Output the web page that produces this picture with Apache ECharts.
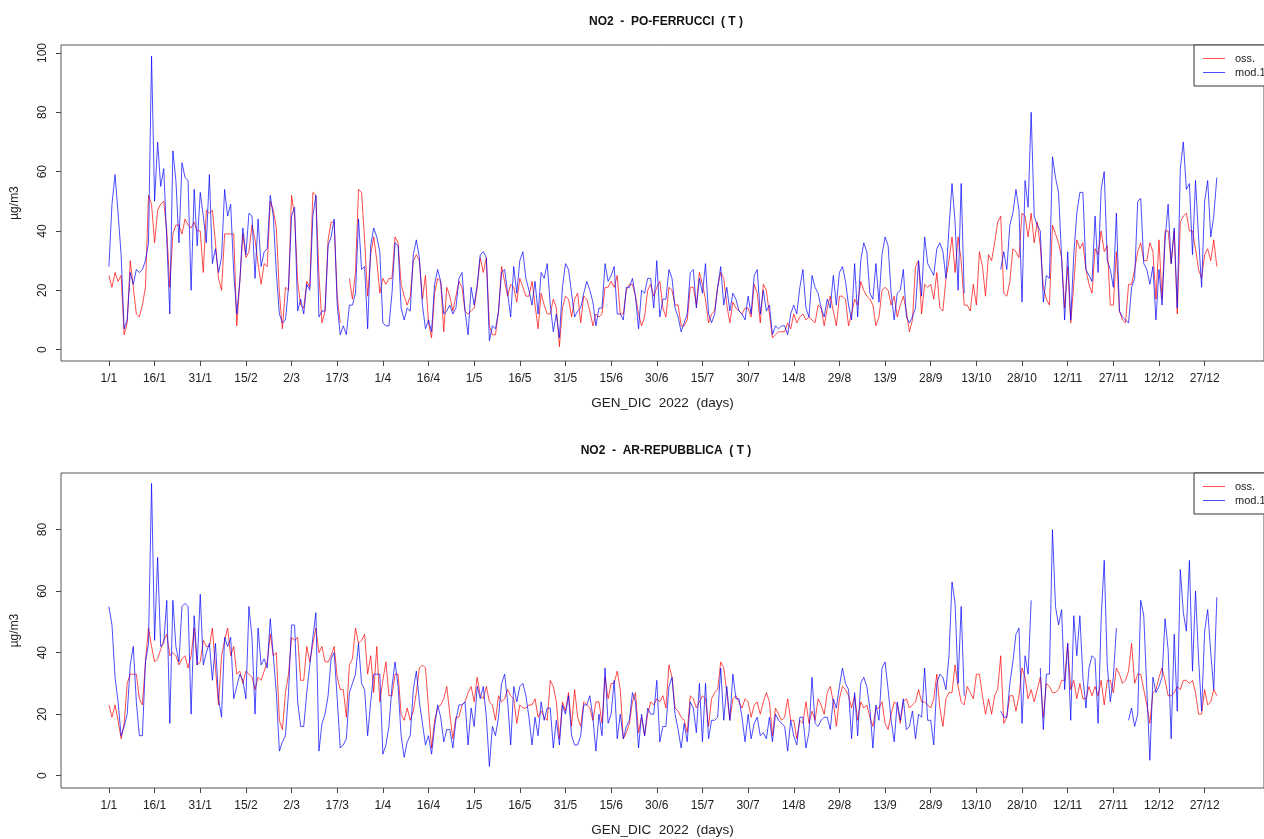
<!DOCTYPE html>
<html lang="it">
<head>
    <meta charset="UTF-8">
    <title>NO2 GEN_DIC 2022</title>
    <script src="https://cdn.jsdelivr.net/npm/echarts@6/dist/echarts.min.js"></script>
    <style>
        html, body { margin: 0; padding: 0; background: #fff; }
        #main { width: 1264px; height: 839px; }
    </style>
</head>
<body>
<div id="main"></div>
<script type="text/javascript">
    // tick positions (day of year) and their labels
    var tickDays = [1, 16, 31, 46, 61, 76, 91, 106, 121, 136, 151, 166, 181, 196, 211, 226, 241, 256, 271, 286, 301, 316, 331, 346, 361];
    var tickLabels = ['1/1', '16/1', '31/1', '15/2', '2/3', '17/3', '1/4', '16/4', '1/5', '16/5', '31/5', '15/6', '30/6',
        '15/7', '30/7', '14/8', '29/8', '13/9', '28/9', '13/10', '28/10', '12/11', '27/11', '12/12', '27/12'];
    var yTicks1 = [0, 20, 40, 60, 80, 100];
    var yTicks2 = [0, 20, 40, 60, 80];

    // PO-FERRUCCI, observed
    var oss1 = [
        25, 21, 26, 23, 25, 5, 9, 30, 21, 12,
        11, 15, 21, 52, 49, 36, 47, 49, 50, 40,
        21, 39, 42, 42, 39, 44, 42, 41, 43, 40,
        40, 26, 47, 46, 47, 36, 24, 20, 39, 39,
        39, 39, 8, 23, 39, 31, 33, 42, 37, 29,
        22, 29, 28, 50, 47, 41, 19, 7, 21, 20,
        52, 45, 23, 15, 14, 23, 21, 53, 52, 25,
        9, 13, 37, 43, 43, 18, 9, null, null, 24,
        17, 26, 54, 53, 37, 18, 32, 38, 30, 19,
        24, 22, 24, 24, 38, 36, 22, 18, 15, 18,
        30, 32, 30, 17, 25, 9, 4, 19, 24, 23,
        6, 21, 18, 13, 18, 23, 21, 13, 12, 13,
        14, 21, 31, 26, 31, 8, 5, 5, 13, 28,
        23, 18, 22, 21, 16, 24, 21, 18, 18, 23,
        15, 7, 19, 15, 12, 12, 17, 14, 1, 14,
        18, 17, 11, 17, 19, 9, 18, 17, 13, 8,
        12, 11, 12, 21, 21, 23, 21, 25, 12, 12,
        20, 22, 22, 18, 12, 8, 11, 20, 22, 18,
        21, 23, 14, 11, 21, 20, 15, 15, 8, 8,
        10, 21, 21, 15, 26, 22, 17, 9, 12, 13,
        21, 26, 24, 15, 9, 16, 14, 13, 12, 14,
        14, 11, 22, 19, 9, 22, 20, 12, 4, 5,
        6, 6, 6, 9, 7, 12, 9, 11, 12, 10,
        11, 10, 9, 15, 14, 8, 14, 18, 13, 8,
        18, 18, 17, 8, 12, 17, 15, 23, 20, 18,
        17, 15, 8, 11, 20, 21, 20, 15, 18, 11,
        15, 18, 13, 6, 10, 28, 30, 12, 22, 21,
        22, 17, 26, 14, 13, 24, 30, 38, 26, 38,
        30, 15, 15, 13, 22, 15, 33, 28, 18, 32,
        30, 36, 43, 45, 19, 18, 23, 34, 33, 31,
        46, 45, 38, 46, 36, 43, 35, 21, 17, 15,
        42, 39, 36, 31, 14, 28, 9, 22, 37, 34,
        36, 27, 22, 19, 34, 32, 40, 33, 35, 15,
        15, 33, 13, 10, 9, 22, 22, 27, 33, 36,
        30, 30, 36, 33, 17, 37, 17, 40, 40, 29,
        40, 12, 43, 45, 46, 40, 40, 34, 27, 24,
        32, 34, 30, 37, 28
    ];
    // PO-FERRUCCI, model
    var mod1 = [
        28, 49, 59, 46, 32, 7, 10, 26, 22, 27,
        26, 27, 30, 36, 99, 50, 70, 55, 61, 37,
        12, 67, 57, 36, 63, 58, 57, 20, 54, 35,
        53, 45, 36, 59, 29, 34, 26, 31, 54, 45,
        49, 26, 12, 23, 41, 32, 46, 45, 24, 44,
        28, 33, 34, 52, 45, 26, 12, 9, 10, 21,
        45, 48, 13, 17, 12, 22, 20, 45, 52, 11,
        13, 13, 35, 38, 44, 15, 5, 8, 5, 15,
        15, 19, 44, 27, 28, 7, 35, 41, 38, 33,
        9, 8, 8, 19, 36, 35, 14, 10, 14, 13,
        32, 37, 31, 15, 7, 10, 6, 22, 27, 23,
        12, 13, 15, 12, 14, 24, 26, 13, 5, 21,
        15, 22, 32, 33, 31, 3, 8, 7, 13, 26,
        27, 19, 11, 28, 19, 30, 33, 24, 20, 15,
        23, 12, 26, 24, 29, 15, 6, 12, 4, 21,
        29, 27, 19, 11, 13, 14, 19, 23, 20, 16,
        8, 14, 14, 29, 23, 25, 28, 12, 12, 10,
        21, 21, 24, 18, 7, 20, 19, 24, 24, 14,
        30, 11, 17, 17, 27, 24, 14, 11, 6, 9,
        12, 26, 27, 14, 24, 19, 29, 12, 9, 12,
        21, 28, 15, 21, 13, 19, 17, 13, 12, 10,
        18, 12, 25, 27, 12, 20, 13, 15, 5, 8,
        7, 8, 8, 5, 12, 15, 12, 21, 27, 14,
        11, 25, 21, 19, 14, 11, 17, 14, 25, 15,
        26, 28, 23, 15, 10, 29, 11, 30, 36, 33,
        19, 17, 29, 16, 32, 38, 35, 19, 10, 19,
        20, 27, 11, 9, 11, 14, 30, 18, 38, 29,
        27, 25, 34, 36, 33, 24, 41, 56, 43, 20,
        56, 19, null, null, null, null, null, null, null, null,
        null, null, null, 27, 33, 27, 42, 46, 54, 47,
        16, 57, 48, 80, 45, 42, 40, 16, 25, 24,
        65, 58, 53, 31, 10, 33, 10, 32, 46, 53,
        53, 27, 25, 23, 45, 26, 54, 60, 30, 27,
        21, 46, 13, 11, 10, 9, 21, 24, 50, 51,
        29, 27, 22, 28, 10, 27, 15, 37, 49, 29,
        41, 14, 61, 70, 54, 56, 32, 57, 38, 21,
        50, 57, 38, 45, 58
    ];
    // AR-REPUBBLICA, observed
    var oss2 = [
        23, 19, 23, 18, 12, 17, 30, 33, 33, 33,
        25, 23, 37, 48, 42, 37, 38, 41, 44, 46,
        39, 40, 39, 36, 38, 39, 35, 39, 48, 36,
        37, 44, 42, 42, 48, 35, 23, 39, 44, 48,
        39, 42, 33, 34, 30, 34, 33, 32, 28, 32,
        31, 34, 37, 46, 39, 40, 18, 15, 27, 33,
        45, 44, 45, 31, 31, 42, 37, 43, 48, 40,
        42, 37, 37, 39, 42, 32, 28, 28, 19, 36,
        38, 48, 43, 44, 46, 33, 39, 27, 42, 24,
        31, 37, 26, 26, 33, 33, 20, 18, 22, 18,
        21, 27, 35, 36, 35, 22, 9, 18, 22, 23,
        25, 29, 20, 12, 19, 19, 23, 24, 27, 29,
        24, 32, 26, 25, 29, 24, 23, 18, 26, 24,
        25, 28, 26, 25, 17, 23, 22, 22, 23, 23,
        25, 19, 21, 19, 18, 31, 29, 24, 12, 24,
        21, 27, 16, 28, 19, 16, 24, 23, 22, 18,
        24, 24, 17, 32, 25, 30, 30, 34, 28, 12,
        14, 17, 24, 27, 14, 19, 13, 20, 24, 23,
        25, 24, 26, 22, 36, 32, 22, 21, 19, 18,
        14, 26, 25, 22, 24, 26, 25, 16, 25, 27,
        28, 37, 35, 27, 18, 25, 26, 24, 22, 25,
        24, 19, 23, 24, 20, 24, 27, 24, 13, 22,
        20, 18, 19, 25, 18, 18, 12, 18, 17, 24,
        17, 21, 18, 25, 23, 20, 27, 29, 24, 16,
        25, 29, 28, 26, 22, 26, 18, 24, 22, 23,
        19, 16, 22, 22, 24, 17, 15, 20, 24, 23,
        17, 24, 25, 22, 23, 24, 28, 24, 24, 23,
        22, 25, 33, 22, 16, 25, 27, 27, 36, 29,
        24, 23, 29, 27, 25, 33, 33, 26, 20, 25,
        20, 26, 28, 39, 17, 19, 26, 26, 21, 26,
        35, 32, 25, 28, 24, 28, 32, 19, 30, 29,
        27, 27, 28, 31, 31, 43, 28, 31, 25, 30,
        25, 25, 29, 26, 29, 26, 31, 23, 31, 31,
        27, 35, 33, 30, 31, 34, 43, 30, 33, 33,
        28, 23, 17, 27, 28, 32, 35, 31, 26, 26,
        27, 29, 28, 31, 31, 30, 31, 27, 20, 20,
        28, 23, 24, 28, 26
    ];
    // AR-REPUBBLICA, model
    var mod2 = [
        55, 49, 32, 24, 13, 16, 20, 36, 42, 24,
        13, 13, 37, 43, 95, 44, 71, 42, 43, 57,
        17, 57, 42, 37, 55, 56, 55, 20, 52, 36,
        59, 36, 40, 43, 31, 43, 25, 19, 45, 42,
        45, 25, 29, 33, 31, 25, 55, 45, 20, 48,
        36, 38, 35, 51, 39, 27, 8, 11, 13, 27,
        49, 49, 24, 16, 16, 27, 36, 45, 53, 8,
        17, 20, 26, 38, 40, 25, 9, 10, 12, 27,
        30, 33, 43, 30, 28, 13, 24, 33, 33, 33,
        7, 10, 16, 29, 37, 29, 13, 6, 11, 13,
        28, 34, 24, 17, 10, 13, 7, 16, 23, 19,
        11, 15, 15, 9, 18, 23, 23, 24, 10, 22,
        16, 29, 25, 29, 19, 3, 16, 13, 19, 30,
        33, 24, 10, 29, 24, 29, 30, 26, 19, 10,
        19, 13, 24, 18, 22, 22, 9, 18, 10, 23,
        20, 26, 13, 10, 10, 13, 23, 23, 26, 19,
        8, 20, 13, 35, 17, 20, 31, 12, 20, 12,
        16, 18, 27, 24, 9, 20, 13, 22, 20, 20,
        31, 11, 16, 16, 29, 32, 20, 15, 9, 17,
        11, 24, 22, 14, 30, 11, 30, 12, 18, 18,
        19, 35, 18, 29, 18, 33, 25, 25, 19, 11,
        20, 12, 17, 19, 13, 14, 12, 19, 11, 20,
        18, 17, 16, 8, 18, 13, 10, 19, 19, 9,
        14, 32, 17, 16, 18, 19, 19, 15, 25, 22,
        29, 35, 30, 28, 12, 27, 13, 30, 32, 29,
        22, 9, 23, 18, 35, 37, 28, 18, 11, 24,
        18, 25, 15, 16, 21, 12, 20, 19, 35, 18,
        18, 10, 30, 33, 32, 28, 39, 63, 56, 30,
        55, 26, null, null, null, null, null, null, null, null,
        null, null, null, 21, 19, 19, 30, 37, 46, 48,
        17, 39, 33, 57, null, null, 35, 15, 33, 33,
        80, 55, 49, 54, 28, 43, 18, 52, 39, 52,
        32, 22, 35, 39, 38, 17, 51, 70, 36, 24,
        32, 48, null, null, null, 18, 22, 16, 20, 57,
        52, 28, 5, 32, 27, 29, 32, 51, 41, 12,
        46, 21, 67, 53, 47, 70, 34, 60, 38, 21,
        47, 54, 40, 28, 58
    ];

    var FONT = '"Liberation Sans", Arial, Helvetica, sans-serif';
    var RED = 'rgba(255,0,0,0.7)';
    var BLUE = 'rgba(0,0,255,0.7)';

    function toPairs(arr) {
        return arr.map(function (v, i) { return [i + 1, v]; });
    }
    function dayLabel(v) {
        var k = tickDays.indexOf(v);
        return k >= 0 ? tickLabels[k] : '';
    }

    function xAxisOf(idx) {
        return {
            gridIndex: idx,
            type: 'value',
            min: -14.75,
            max: 380.5,
            axisLine: {show: false, onZero: false},
            splitLine: {show: false},
            axisTick: {show: true, customValues: tickDays, length: 5, lineStyle: {color: '#444', width: 1}},
            axisLabel: {customValues: tickDays, formatter: dayLabel, margin: 12, fontSize: 12, color: '#222', fontFamily: FONT},
            name: 'GEN_DIC  2022  (days)',
            nameLocation: 'middle',
            nameGap: 35,
            nameTextStyle: {fontSize: 13.5, color: '#222', fontFamily: FONT}
        };
    }
    function yAxisOf(idx, min, max, ticks) {
        return {
            gridIndex: idx,
            type: 'value',
            min: min,
            max: max,
            axisLine: {show: false, onZero: false},
            splitLine: {show: false},
            axisTick: {show: true, customValues: ticks, length: 5, lineStyle: {color: '#444', width: 1}},
            axisLabel: {customValues: ticks, rotate: 90, margin: 12, fontSize: 12, color: '#222', fontFamily: FONT},
            name: 'µg/m3',
            nameLocation: 'middle',
            nameGap: 40,
            nameTextStyle: {fontSize: 12, color: '#222', fontFamily: FONT}
        };
    }
    function lineOf(name, data, color, idx) {
        return {
            name: name,
            type: 'line',
            xAxisIndex: idx,
            yAxisIndex: idx,
            data: toPairs(data),
            symbol: 'none',
            connectNulls: false,
            lineStyle: {width: 1, color: color},
            itemStyle: {color: color},
            emphasis: {disabled: true}
        };
    }
    function legendOf(top) {
        return {
            data: ['oss.', 'mod.1'],
            orient: 'vertical',
            left: 1194,
            top: top,
            icon: 'rect',
            padding: [8, 40, 8, 9],
            itemWidth: 22,
            itemHeight: 1,
            itemGap: 3,
            borderColor: '#333',
            borderWidth: 1,
            borderRadius: 0,
            backgroundColor: '#fff',
            textStyle: {fontSize: 11, color: '#222', fontFamily: FONT, padding: [0, 0, 0, 5]}
        };
    }

    var chart = echarts.init(document.getElementById('main'));
    var option = {
        animation: false,
        textStyle: {fontFamily: FONT},
        title: [
            {text: 'NO2  -  PO-FERRUCCI  ( T )', left: 661, top: 11, textAlign: 'center',
                textStyle: {fontSize: 12, fontWeight: 'bold', color: '#111', fontFamily: FONT}},
            {text: 'NO2  -  AR-REPUBBLICA  ( T )', left: 661, top: 440, textAlign: 'center',
                textStyle: {fontSize: 12, fontWeight: 'bold', color: '#111', fontFamily: FONT}}
        ],
        legend: [legendOf(45), legendOf(473)],
        grid: [
            {left: 61, top: 45, width: 1212, height: 316, show: true, borderColor: '#555', borderWidth: 1, backgroundColor: 'transparent'},
            {left: 61, top: 473, width: 1212, height: 315, show: true, borderColor: '#555', borderWidth: 1, backgroundColor: 'transparent'}
        ],
        xAxis: [xAxisOf(0), xAxisOf(1)],
        yAxis: [yAxisOf(0, -3.85, 102.7, yTicks1), yAxisOf(1, -4.0, 98.4, yTicks2)],
        series: [
            lineOf('oss.', oss1, RED, 0),
            lineOf('mod.1', mod1, BLUE, 0),
            lineOf('oss.', oss2, RED, 1),
            lineOf('mod.1', mod2, BLUE, 1)
        ]
    };
    chart.setOption(option);
</script>
</body>
</html>
